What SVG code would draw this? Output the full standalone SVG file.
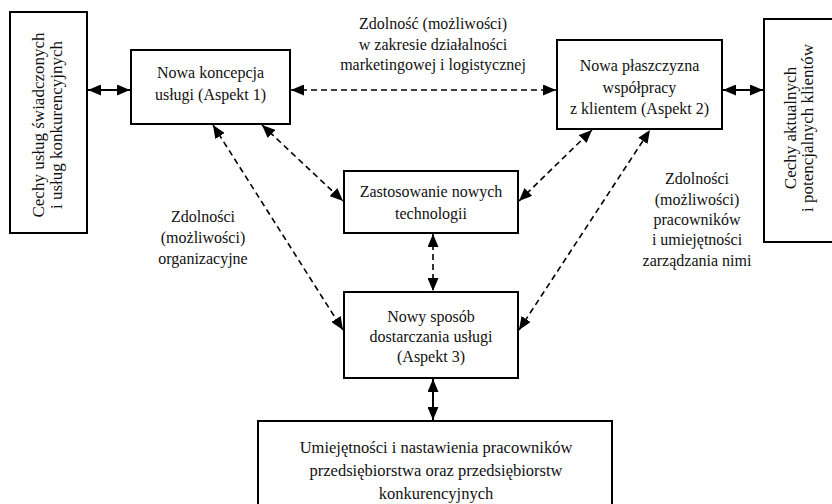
<svg xmlns="http://www.w3.org/2000/svg" width="832" height="504" viewBox="0 0 832 504">
<style>
.box{fill:#fff;stroke:#000;stroke-width:2}
.t{font-family:"Liberation Serif","Times New Roman",serif;font-size:16px;fill:#111;text-anchor:middle}
.v{font-size:17px}
.solid{stroke:#000;stroke-width:2;fill:none;marker-start:url(#ah);marker-end:url(#ah)}
.dash{stroke:#000;stroke-width:1.6;fill:none;stroke-dasharray:6 4;marker-start:url(#ah);marker-end:url(#ah)}
</style>
<defs>
<marker id="ah" markerUnits="userSpaceOnUse" markerWidth="13" markerHeight="11" refX="13" refY="5.5" orient="auto-start-reverse">
<path d="M0,0 L13,5.5 L0,11 z" fill="#000"/>
</marker>
</defs>
<rect width="832" height="504" fill="#fff"/>
<g id="connectors">
<line class="solid" x1="88" y1="90" x2="130" y2="90"/>
<line class="solid" x1="723" y1="90" x2="763" y2="90"/>
<line class="dash" x1="291" y1="90" x2="556" y2="90"/>
<line class="dash" x1="262" y1="125" x2="343" y2="201"/>
<line class="dash" x1="519" y1="201" x2="592" y2="130"/>
<line class="dash" x1="213" y1="125" x2="343" y2="330"/>
<line class="dash" x1="519" y1="330" x2="650" y2="130"/>
<line class="dash" x1="433" y1="234" x2="433" y2="291"/>
<line class="solid" x1="433" y1="379" x2="433" y2="420"/>
</g>
<g id="left-box">
<rect class="box" x="10" y="12" width="77" height="221"/>
<text class="t v" transform="translate(44,125) rotate(-90)">Cechy usług świadczonych</text>
<text class="t v" transform="translate(62,125) rotate(-90)">i usług konkurencyjnych</text>
</g>
<g id="right-box">
<rect class="box" x="764" y="19" width="80" height="223"/>
<text class="t v" transform="translate(796,128) rotate(-90)">Cechy aktualnych</text>
<text class="t v" transform="translate(813,128) rotate(-90)">i potencjalnych  klientów</text>
</g>
<g id="aspekt1">
<rect class="box" x="131" y="50" width="159" height="74"/>
<text class="t" x="210.5" y="78">Nowa koncepcja</text>
<text class="t" x="210.5" y="100">usługi (Aspekt 1)</text>
</g>
<g id="aspekt2">
<rect class="box" x="557" y="40" width="165" height="89"/>
<text class="t" x="639.5" y="71">Nowa płaszczyzna</text>
<text class="t" x="639.5" y="92.5">współpracy</text>
<text class="t" x="639.5" y="114">z klientem (Aspekt 2)</text>
</g>
<g id="technologie">
<rect class="box" x="344" y="171" width="174" height="62"/>
<text class="t" x="431" y="197">Zastosowanie nowych</text>
<text class="t" x="431" y="219">technologii</text>
</g>
<g id="aspekt3">
<rect class="box" x="344" y="292" width="174" height="86"/>
<text class="t" x="431" y="322">Nowy sposób</text>
<text class="t" x="431" y="342">dostarczania usługi</text>
<text class="t" x="431" y="362">(Aspekt 3)</text>
</g>
<g id="umiejetnosci">
<rect class="box" x="258" y="421" width="354" height="95"/>
<text class="t" x="436" y="453" style="font-size:16.5px">Umiejętności i nastawienia pracowników</text>
<text class="t" x="436" y="476" style="font-size:16.5px">przedsiębiorstwa oraz przedsiębiorstw</text>
<text class="t" x="436" y="498.5" style="font-size:16.5px">konkurencyjnych</text>
</g>
<g id="labels">
<text class="t" x="433" y="29">Zdolność (możliwości)</text>
<text class="t" x="433" y="49.5">w zakresie działalności</text>
<text class="t" x="433" y="70">marketingowej i logistycznej</text>
<text class="t" x="203" y="222">Zdolności</text>
<text class="t" x="203" y="243">(możliwości)</text>
<text class="t" x="203" y="264">organizacyjne</text>
<text class="t" x="697" y="184">Zdolności</text>
<text class="t" x="697" y="204.5">(możliwości)</text>
<text class="t" x="697" y="225">pracowników</text>
<text class="t" x="697" y="245">i umiejętności</text>
<text class="t" x="697" y="265.5">zarządzania nimi</text>
</g>
</svg>
